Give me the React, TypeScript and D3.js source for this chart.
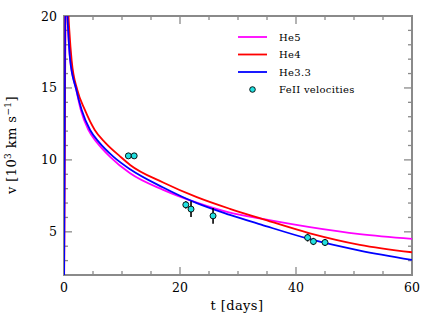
import * as d3 from 'd3';
import React from 'react';

// model curves (t in days, v in 10^3 km/s)
const he5T = [0, 0.35, 0.6, 0.72, 1.05, 2.1, 2.9, 4.2, 5.7, 7.9, 11.4, 17.1, 22.9, 28.6, 34, 42.4, 51, 60];
const he5V = [0, 26, 20, 19, 17, 14.9, 13.47, 12.08, 11.2, 10.23, 9.07, 7.92, 7.03, 6.34, 5.92, 5.33, 4.84, 4.51];

const he4T = [0, 0.45, 0.78, 0.92, 1.32, 2.3, 3.6, 5.3, 7.1, 9.7, 11.4, 17.1, 22.9, 28.6, 34, 42.4, 51, 60];
const he4V = [0, 26, 20, 19, 16.9, 14.86, 13.47, 12.08, 11.2, 10.23, 9.65, 8.43, 7.41, 6.6, 5.92, 4.9, 4.1, 3.58];

const he33T = [0, 0.35, 0.6, 0.72, 1.05, 2.1, 3.05, 4.5, 6.1, 8.5, 11.4, 17.1, 22.9, 28.6, 34, 42.4, 51, 60];
const he33V = [0, 26, 20, 19, 17, 14.9, 13.47, 12.08, 11.2, 10.23, 9.35, 8.08, 6.99, 6.18, 5.5, 4.49, 3.7, 3.05];

// FeII velocities
const feT = [11.1, 12.1, 21.0, 21.9, 25.7, 42.0, 43.0, 45.0];
const feV = [10.28, 10.28, 6.88, 6.58, 6.11, 4.6, 4.33, 4.26];
const feErr = [0.15, 0.15, 0.25, 0.55, 0.55, 0.27, 0.25, 0.25];

const seriesNames = ['He5', 'He4', 'He3.3'];
const seriesColors = ['#ff00ff', '#ff0000', '#0000ff'];

const W = 438;
const H = 327;
const margin = { top: 16, right: 26, bottom: 52, left: 64 };
const axisColor = '#8a8a8a';
const font = '"DejaVu Serif", serif';

const App = () => {
  const iw = W - margin.left - margin.right;
  const ih = H - margin.top - margin.bottom;

  const x = d3.scaleLinear().domain([0, 60]).range([0, iw]);
  const y = d3.scaleLinear().domain([2, 20]).range([ih, 0]);

  const line = d3
    .line<[number, number]>()
    .x((d) => x(d[0]))
    .y((d) => y(d[1]))
    .curve(d3.curveMonotoneX);

  const curves = [
    d3.zip(he5T, he5V) as [number, number][],
    d3.zip(he4T, he4V) as [number, number][],
    d3.zip(he33T, he33V) as [number, number][],
  ];

  const xMajor = [0, 20, 40, 60];
  const xMinor = d3.range(0, 61, 5).filter((d) => d % 20 !== 0);
  const yMajor = [5, 10, 15, 20];
  const yMinor = d3.range(2, 21, 1).filter((d) => d % 5 !== 0);

  const legendX = 238;
  const legendY = [37, 54.5, 72, 89.5];

  return (
    <svg width={W} height={H} style={{ display: 'block', position: 'absolute', left: 0, top: 0 }}>
      <rect width={W} height={H} fill="#fff" />
      <defs>
        <clipPath id="plotclip">
          <rect x={0} y={0} width={iw} height={ih} />
        </clipPath>
      </defs>
      <g transform={`translate(${margin.left},${margin.top})`}>
        {/* ticks, all four sides, pointing inward */}
        <g stroke={axisColor} strokeWidth={1.3}>
          {xMajor.map((t) => (
            <g key={'xM' + t}>
              <line x1={x(t)} x2={x(t)} y1={ih} y2={ih - 8} />
              <line x1={x(t)} x2={x(t)} y1={0} y2={8} />
            </g>
          ))}
          {xMinor.map((t) => (
            <g key={'xm' + t}>
              <line x1={x(t)} x2={x(t)} y1={ih} y2={ih - 4} />
              <line x1={x(t)} x2={x(t)} y1={0} y2={4} />
            </g>
          ))}
          {yMajor.map((t) => (
            <g key={'yM' + t}>
              <line x1={0} x2={8} y1={y(t)} y2={y(t)} />
              <line x1={iw} x2={iw - 8} y1={y(t)} y2={y(t)} />
            </g>
          ))}
          {yMinor.map((t) => (
            <g key={'ym' + t}>
              <line x1={0} x2={4} y1={y(t)} y2={y(t)} />
              <line x1={iw} x2={iw - 4} y1={y(t)} y2={y(t)} />
            </g>
          ))}
        </g>
        <rect x={0} y={0} width={iw} height={ih} fill="none" stroke={axisColor} strokeWidth={2} />

        {/* model curves */}
        <g clipPath="url(#plotclip)">
          {curves.map((c, i) => (
            <path key={i} d={line(c) ?? ''} fill="none" stroke={seriesColors[i]} strokeWidth={1.8} />
          ))}
        </g>

        {/* FeII data */}
        {feT.map((t, i) => (
          <g key={'fe' + i}>
            <line
              x1={x(t)}
              x2={x(t)}
              y1={y(feV[i] - feErr[i])}
              y2={y(feV[i] + feErr[i])}
              stroke="#000"
              strokeWidth={1.6}
            />
            <circle cx={x(t)} cy={y(feV[i])} r={3} fill="#22e0e0" stroke="#000" strokeWidth={0.9} />
          </g>
        ))}

        {/* tick labels */}
        {xMajor.map((t) => (
          <text key={'xl' + t} x={x(t)} y={ih + 17} textAnchor="middle" fontFamily={font} fontSize={12.5} fill="#000">
            {t}
          </text>
        ))}
        {yMajor.map((t) => (
          <text key={'yl' + t} x={-7} y={y(t) + 4.5} textAnchor="end" fontFamily={font} fontSize={12.5} fill="#000">
            {t}
          </text>
        ))}
      </g>

      {/* axis titles */}
      <text x={237} y={310} textAnchor="middle" fontFamily={font} fontSize={13} fill="#000" letterSpacing={0.4}>
        t [days]
      </text>
      <text
        transform={`translate(16,145) rotate(-90)`}
        textAnchor="middle"
        fontFamily={font}
        fontSize={13}
        fill="#000"
        letterSpacing={0.4}
      >
        v [10
        <tspan dy={-5} fontSize={9}>3</tspan>
        <tspan dy={5}> km s</tspan>
        <tspan dy={-5} fontSize={9}>−1</tspan>
        <tspan dy={5}>]</tspan>
      </text>

      {/* legend */}
      {seriesNames.map((n, i) => (
        <g key={n}>
          <line x1={legendX} x2={legendX + 29} y1={legendY[i]} y2={legendY[i]} stroke={seriesColors[i]} strokeWidth={1.8} />
          <text x={279} y={legendY[i] + 3.8} fontFamily={font} fontSize={10} fill="#000" letterSpacing={0.3}>
            {n}
          </text>
        </g>
      ))}
      <circle cx={252.5} cy={legendY[3]} r={2.8} fill="#22e0e0" stroke="#000" strokeWidth={0.9} />
      <text x={279} y={legendY[3] + 3.8} fontFamily={font} fontSize={10} fill="#000" letterSpacing={0.3}>
        FeII velocities
      </text>
    </svg>
  );
};

export default App;
